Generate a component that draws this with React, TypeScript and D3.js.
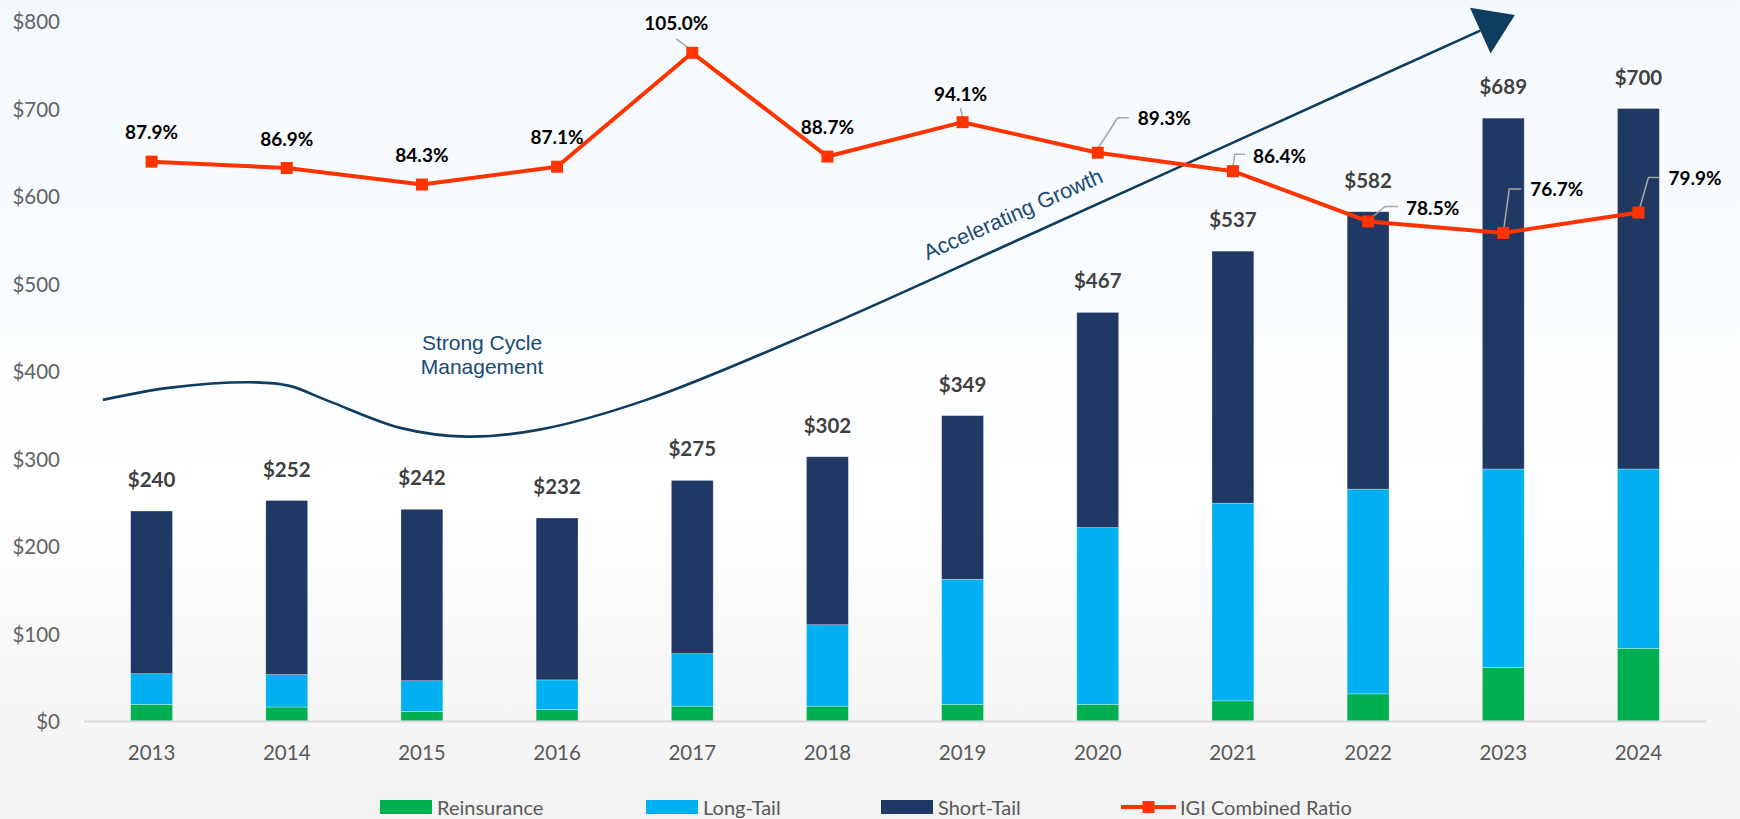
import React from 'react';
import * as d3 from 'd3';

// ---------- data ----------
const years = ['2013', '2014', '2015', '2016', '2017', '2018', '2019', '2020', '2021', '2022', '2023', '2024'];
const reinsurance = [19, 16, 11, 13, 17, 17, 19, 19, 23, 31, 61, 83];
const longTail = [35, 37, 35, 34, 60, 93, 143, 202, 226, 234, 227, 205];
const shortTail = [186, 199, 196, 185, 198, 192, 187, 246, 288, 317, 401, 412];
const combinedRatio = [87.9, 86.9, 84.3, 87.1, 105.0, 88.7, 94.1, 89.3, 86.4, 78.5, 76.7, 79.9];
const yTicks = [0, 100, 200, 300, 400, 500, 600, 700, 800];
const seriesKeys = ['reinsurance', 'longTail', 'shortTail'];
const legendLabels = ['Reinsurance', 'Long-Tail', 'Short-Tail', 'IGI Combined Ratio'];

// annotation curve in data space: [category index, $ value]
const cycleCurve: [number, number][] = [
  [-0.36, 367], [0.14, 381], [0.77, 387], [1.02, 383], [1.32, 365], [1.84, 335],
  [2.33, 325], [2.87, 333], [3.66, 367], [4.93, 447], [6.5, 556], [8.2, 675], [9.83, 789],
];

// ---------- layout ----------
const W = 1740;
const H = 819;
const PLOT = { left: 84, right: 1706, top: 21, bottom: 721 };
const colors = { reinsurance: '#00b050', longTail: '#00b0f0', shortTail: '#203864', ratio: '#ff3300' };
const CAL = 'Lato, "Open Sans", sans-serif';
const ARIAL = '"Liberation Sans", Arial, sans-serif';
const ANNOT = '#0f3d5f';

type Lay = { tx: number; ty: number; anchor: string; leader: [number, number][] | null };
const ratioLabelLayout: Lay[] = [
  { tx: 0, ty: -30, anchor: 'middle', leader: null },
  { tx: 0, ty: -30, anchor: 'middle', leader: null },
  { tx: 0, ty: -30, anchor: 'middle', leader: null },
  { tx: 0, ty: -30, anchor: 'middle', leader: null },
  { tx: -16, ty: -30, anchor: 'middle', leader: [[0, -2], [-16, -14]] },
  { tx: 0, ty: -30, anchor: 'middle', leader: null },
  { tx: -2, ty: -29, anchor: 'middle', leader: [[0, -4], [-2, -14]] },
  { tx: 40, ty: -35, anchor: 'start', leader: [[0, -4], [20, -35], [31, -35]] },
  { tx: 20, ty: -16, anchor: 'start', leader: [[0, -4], [2, -17], [12, -17]] },
  { tx: 38, ty: -14, anchor: 'start', leader: [[0, -1], [17, -15], [30, -15]] },
  { tx: 27, ty: -44, anchor: 'start', leader: [[0, 0], [6, -44], [18, -44]] },
  { tx: 30, ty: -35, anchor: 'start', leader: [[0, 0], [10, -35], [21, -35]] },
];
const legendX = [380, 646, 881, 1121];

export default function App() {
  const x = d3.scaleBand<string>().domain(years).range([PLOT.left, PLOT.right]).padding(0);
  const step = x.step();
  const barW = step * 0.31;
  const cx = (i: number) => (x(years[i]) as number) + step / 2;
  const idxX = d3.scaleLinear().domain([0, years.length - 1]).range([cx(0), cx(years.length - 1)]);
  const y = d3.scaleLinear().domain([0, 800]).range([PLOT.bottom, PLOT.top]);
  const y2 = d3.scaleLinear().domain([0, 110]).range([PLOT.bottom, PLOT.top]);

  const rows = years.map((yr, i) => ({
    year: yr,
    reinsurance: reinsurance[i],
    longTail: longTail[i],
    shortTail: shortTail[i],
  }));
  const stacked = d3.stack<any>().keys(seriesKeys)(rows);
  const totals = rows.map((r) => r.reinsurance + r.longTail + r.shortTail);

  const ratioLine = d3
    .line<number>()
    .x((_, i) => cx(i))
    .y((d) => y2(d))(combinedRatio) as string;

  const curvePts = cycleCurve.map(([i, v]) => [idxX(i), y(v)] as [number, number]);
  const curvePath = d3.line().curve(d3.curveCatmullRom.alpha(0.5))(curvePts) as string;
  const end = curvePts[curvePts.length - 1];
  const prev = curvePts[curvePts.length - 2];
  const dxv = end[0] - prev[0];
  const dyv = end[1] - prev[1];
  const len = Math.hypot(dxv, dyv);
  const ux = dxv / len;
  const uy = dyv / len;
  const headLen = 38;
  const headHalf = 25;
  const head = [
    [end[0] + ux * headLen, end[1] + uy * headLen],
    [end[0] - uy * headHalf, end[1] + ux * headHalf],
    [end[0] + uy * headHalf, end[1] - ux * headHalf],
  ];

  return (
    <svg
      width={W}
      height={H}
      style={{ position: 'absolute', left: 0, top: 0, display: 'block' }}
      xmlns="http://www.w3.org/2000/svg"
    >
      <defs>
        <linearGradient id="bg" x1="0" y1="0" x2="0" y2="1">
          <stop offset="0" stopColor="#f4f9fd" />
          <stop offset="0.35" stopColor="#f9fcfe" />
          <stop offset="0.62" stopColor="#ffffff" />
          <stop offset="0.86" stopColor="#f6f6f6" />
          <stop offset="1" stopColor="#f2f2f2" />
        </linearGradient>
      </defs>
      <rect x={0} y={0} width={W} height={H} fill="url(#bg)" />

      {yTicks.map((t) => (
        <text
          key={t}
          x={60}
          y={y(t)}
          textAnchor="end"
          dominantBaseline="central"
          fontFamily={CAL}
          fontSize={20.5}
          fill="#636363"
        >
          {'$' + t}
        </text>
      ))}

      {stacked.map((s) => (
        <g key={s.key} fill={(colors as any)[s.key]}>
          {s.map((d, i) => (
            <rect
              key={i}
              x={cx(i) - barW / 2}
              y={y(d[1])}
              width={barW}
              height={y(d[0]) - y(d[1])}
              stroke="#ffffff"
              strokeOpacity={0.5}
              strokeWidth={0.6}
            />
          ))}
        </g>
      ))}

      <line x1={PLOT.left} x2={PLOT.right} y1={y(0) + 0.5} y2={y(0) + 0.5} stroke="#d9d9d9" strokeWidth={2} />

      {years.map((yr, i) => (
        <text
          key={yr}
          x={cx(i)}
          y={752}
          textAnchor="middle"
          dominantBaseline="central"
          fontFamily={CAL}
          fontSize={20.5}
          fill="#595959"
        >
          {yr}
        </text>
      ))}

      {totals.map((t, i) => (
        <text
          key={i}
          x={cx(i)}
          y={y(t) - 32}
          textAnchor="middle"
          dominantBaseline="central"
          fontFamily={CAL}
          fontWeight={700}
          fontSize={20.5}
          fill="#404040"
        >
          {'$' + t}
        </text>
      ))}

      <path d={curvePath} fill="none" stroke={ANNOT} strokeWidth={2.6} />
      <polygon points={head.map((p) => p.join(',')).join(' ')} fill={ANNOT} />
      <text x={482} y={350} textAnchor="middle" fontFamily={ARIAL} fontSize={21} fill="#1a4a72">
        Strong Cycle
      </text>
      <text x={482} y={374} textAnchor="middle" fontFamily={ARIAL} fontSize={21} fill="#1a4a72">
        Management
      </text>
      <text
        x={1016}
        y={221}
        textAnchor="middle"
        fontFamily={ARIAL}
        fontSize={21.5}
        fill="#1a4a72"
        transform="rotate(-24 1016 221)"
      >
        Accelerating Growth
      </text>

      {combinedRatio.map((v, i) => {
        const L = ratioLabelLayout[i];
        if (!L.leader) return null;
        const px = cx(i);
        const py = y2(v);
        return (
          <polyline
            key={'ld' + i}
            points={L.leader.map(([a, b]) => `${px + a},${py + b}`).join(' ')}
            fill="none"
            stroke="#a6a6a6"
            strokeWidth={1.5}
          />
        );
      })}

      <path d={ratioLine} fill="none" stroke={colors.ratio} strokeWidth={4} strokeLinejoin="round" />
      {combinedRatio.map((v, i) => (
        <rect key={'m' + i} x={cx(i) - 6} y={y2(v) - 6} width={12} height={12} fill={colors.ratio} />
      ))}

      {combinedRatio.map((v, i) => {
        const L = ratioLabelLayout[i];
        return (
          <text
            key={'rl' + i}
            x={cx(i) + L.tx}
            y={y2(v) + L.ty}
            textAnchor={L.anchor as any}
            dominantBaseline="central"
            fontFamily={CAL}
            fontWeight={700}
            fontSize={19}
            fill="#000000"
          >
            {v.toFixed(1) + '%'}
          </text>
        );
      })}

      {legendLabels.map((lab, i) => {
        const lx = legendX[i];
        const isLine = i === 3;
        const col = isLine ? colors.ratio : (colors as any)[seriesKeys[i]];
        return (
          <g key={lab}>
            {isLine ? (
              <g>
                <line x1={lx} x2={lx + 55} y1={807} y2={807} stroke={col} strokeWidth={4} />
                <rect x={lx + 21.5} y={801} width={12} height={12} fill={col} />
              </g>
            ) : (
              <rect x={lx} y={800} width={52} height={14} fill={col} />
            )}
            <text
              x={isLine ? lx + 59 : lx + 57}
              y={807}
              dominantBaseline="central"
              fontFamily={CAL}
              fontSize={20}
              fill="#595959"
            >
              {lab}
            </text>
          </g>
        );
      })}
    </svg>
  );
}
